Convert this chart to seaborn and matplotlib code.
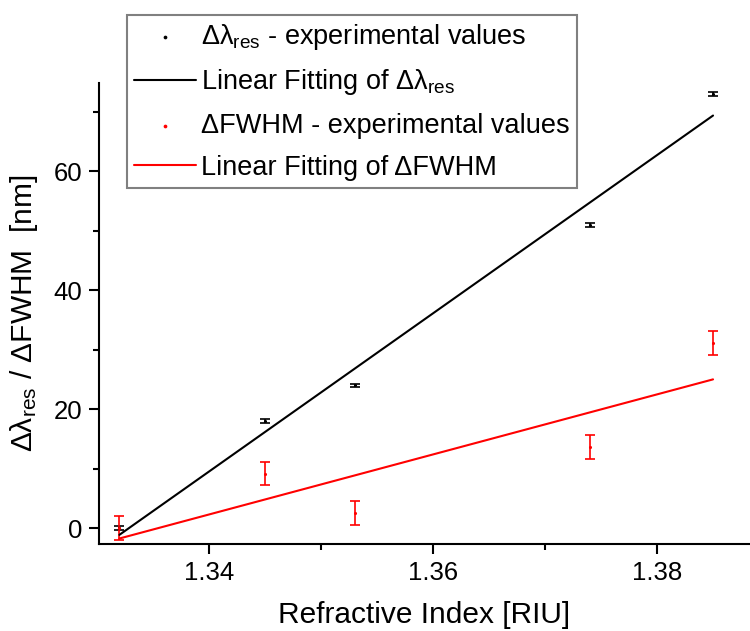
import numpy as np
import pandas as pd
import seaborn as sns
import matplotlib
matplotlib.use('Agg')
import matplotlib.pyplot as plt

# refractive index of the samples
ri = [1.332, 1.345, 1.353, 1.374, 1.385]
# resonance wavelength shift (nm) and its error
d_lambda = [0.0, 18.0, 24.0, 51.0, 73.0]
d_lambda_err = [0.35, 0.3, 0.3, 0.3, 0.4]
# FWHM change (nm) and its error
d_fwhm = [0.0, 9.2, 2.6, 13.6, 31.1]
d_fwhm_err = [2.0, 2.0, 2.0, 2.0, 2.0]

df = pd.DataFrame({'ri': ri, 'dl': d_lambda, 'dl_err': d_lambda_err,
                   'fw': d_fwhm, 'fw_err': d_fwhm_err})

sns.set_style('ticks')
plt.rcParams['font.family'] = ['Liberation Sans', 'DejaVu Sans']
plt.rcParams['mathtext.fontset'] = 'custom'
plt.rcParams['mathtext.rm'] = 'Liberation Sans'
plt.rcParams['mathtext.it'] = 'Liberation Sans:italic'
plt.rcParams['mathtext.default'] = 'regular'
plt.rcParams['text.color'] = 'black'
plt.rcParams['axes.labelcolor'] = 'black'

fig = plt.figure(figsize=(7.5, 6.31), dpi=100)
ax = fig.add_axes([0.132, 0.1379, 0.868, 0.7306])

# error bars (no legend entry)
ax.errorbar(df['ri'], df['dl'], yerr=df['dl_err'], fmt='none', ecolor='black',
            elinewidth=1.2, capsize=3.8, capthick=1.2)
ax.errorbar(df['ri'], df['fw'], yerr=df['fw_err'], fmt='none', ecolor='red',
            elinewidth=1.2, capsize=3.8, capthick=1.2)

sns.scatterplot(data=df, x='ri', y='dl', ax=ax, color='black', s=5, linewidth=0,
                label=r'Δλ$_{res}$ - experimental values', zorder=3)
sns.regplot(data=df, x='ri', y='dl', ax=ax, scatter=False, ci=None, truncate=True,
            color='black', line_kws={'lw': 1.5},
            label=r'Linear Fitting of Δλ$_{res}$')
sns.scatterplot(data=df, x='ri', y='fw', ax=ax, color='red', s=5, linewidth=0,
                label='ΔFWHM - experimental values', zorder=3)
sns.regplot(data=df, x='ri', y='fw', ax=ax, scatter=False, ci=None, truncate=True,
            color='red', line_kws={'lw': 1.5},
            label='Linear Fitting of ΔFWHM')

ax.set_xlim(1.33018, 1.3883)
ax.set_ylim(-2.64, 74.84)
ax.set_xticks([1.34, 1.36, 1.38])
ax.set_xticks([1.35, 1.37], minor=True)
ax.set_yticks([0, 20, 40, 60])
ax.set_yticks([10, 30, 50, 70], minor=True)
ax.set_xticklabels(['1.34', '1.36', '1.38'])

sns.despine(ax=ax)
for s in ['left', 'bottom']:
    ax.spines[s].set_linewidth(1.5)
    ax.spines[s].set_color('black')
ax.tick_params(which='major', direction='out', length=7, width=1.5,
               labelsize=18.5, pad=5, colors='black')
ax.tick_params(which='minor', direction='out', length=4.3, width=1.5, colors='black')

ax.set_xlabel('Refractive Index [RIU]', fontsize=21.5, labelpad=12)
ax.set_ylabel(r'Δλ$_{res}$ / ΔFWHM  [nm]', fontsize=21.5, labelpad=10)

ax.legend().remove()
h, l = ax.get_legend_handles_labels()
leg = fig.legend(h, l, loc='upper left', bbox_to_anchor=(127 / 750, 1 - 15 / 631),
                 fontsize=19.5, frameon=True, fancybox=False, framealpha=1,
                 edgecolor='#808080', handlelength=2.3, handletextpad=0.2,
                 borderpad=0.25, labelspacing=0.58, borderaxespad=0, markerscale=1.2)
leg.get_frame().set_linewidth(1.5)

fig.savefig('out.png', dpi=100)
